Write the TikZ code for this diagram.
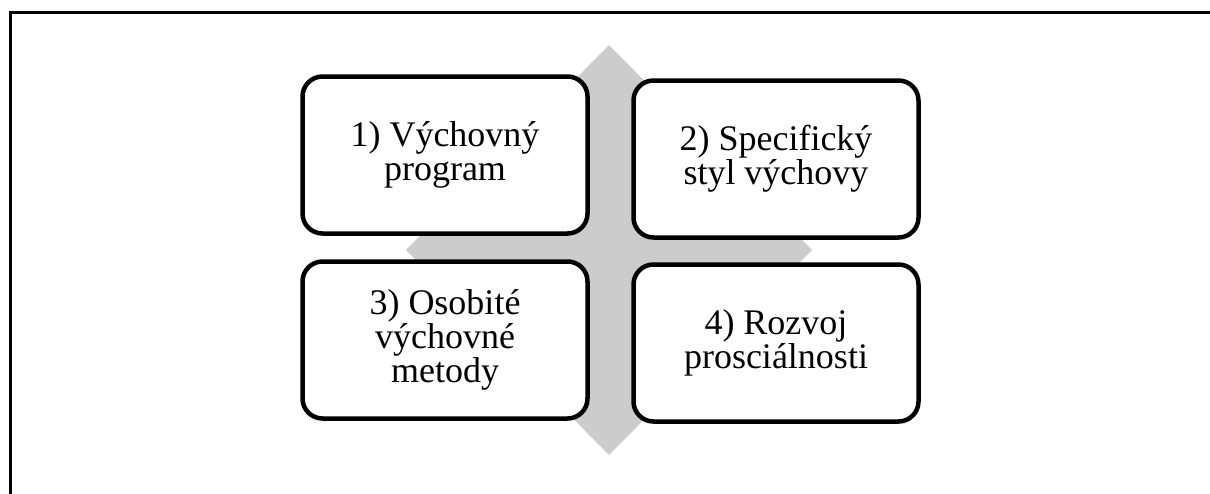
\documentclass[tikz,border=0pt]{standalone}
\usepackage{fontspec}
\setmainfont{Liberation Serif}
\usetikzlibrary{positioning}
\tikzset{
  cell/.style={
    rectangle,
    rounded corners=20pt,
    minimum width=285pt,
    minimum height=157pt,
    outer sep=0pt,
    align=center,
    line width=4.5pt,
    draw=black,
    fill=white,
    font=\fontsize{36}{34}\selectfont
  },
  backdrop/.style={fill=gray!40},
  frameline/.style={line width=3pt, line cap=rect}
}

\begin{document}
\begin{tikzpicture}[x=1pt, y=-1pt, node distance=28pt and 46pt]
  \useasboundingbox (0,0) rectangle (1210,493);
  \draw[frameline] (1210,12) -- (10,12) -- (10,493);
  \fill[backdrop] (609,45) -- (812,250) -- (609,455) -- (406,250) -- cycle;
  \node (b1) [cell] at (445,155) {1) Výchovný\\program};
  \node (b2) [cell, right=of b1, yshift=-4pt] {2) Specifický\\styl výchovy};
  \node (b3) [cell, below=of b1] {3) Osobité\\výchovné\\metody};
  \node (b4) [cell, right=of b3, yshift=-3pt] {4) Rozvoj\\prosciálnosti};
\end{tikzpicture}
\end{document}
